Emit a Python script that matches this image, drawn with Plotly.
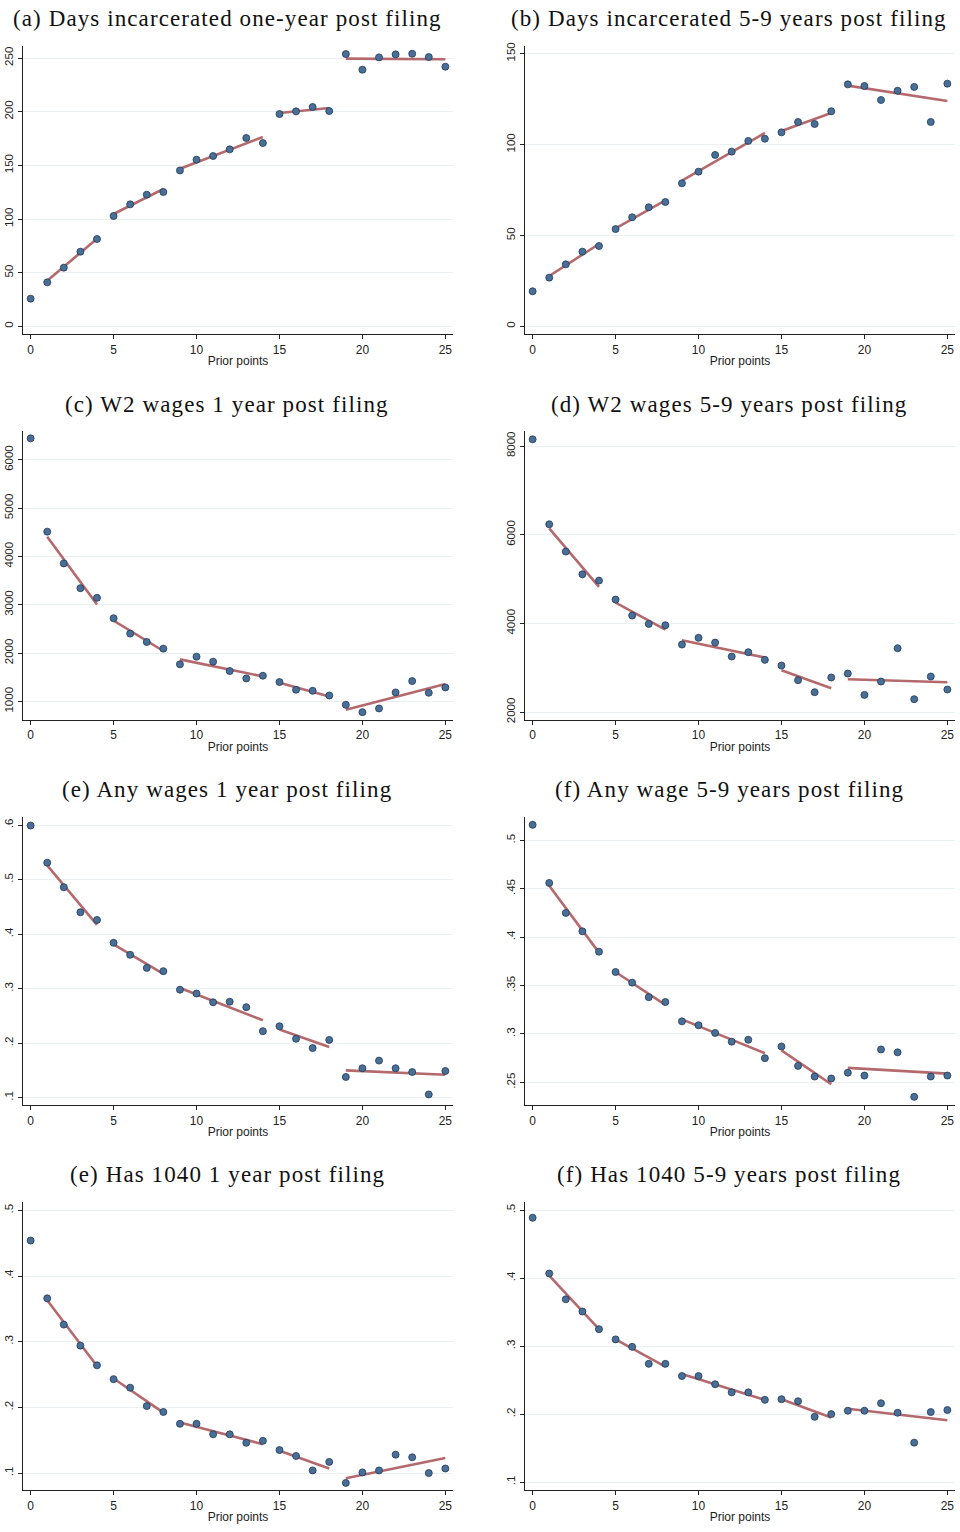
import plotly.graph_objects as go

# ---------------- data ----------------
prior_points = [0, 1, 2, 3, 4, 5, 6, 7, 8, 9, 10, 11, 12, 13, 14, 15, 16, 17, 18, 19, 20, 21, 22, 23, 24, 25]
seg_start = [1, 5, 9, 15, 19]
seg_end = [4, 8, 14, 18, 25]

titles = [
    "(a) Days incarcerated one-year post filing",
    "(b) Days incarcerated 5-9 years post filing",
    "(c) W2 wages 1 year post filing",
    "(d) W2 wages 5-9 years post filing",
    "(e) Any wages 1 year post filing",
    "(f) Any wage 5-9 years post filing",
    "(e) Has 1040 1 year post filing",
    "(f) Has 1040 5-9 years post filing",
]

days_1yr = [25.8, 41.0, 54.7, 69.6, 81.4, 102.8, 113.7, 122.7, 125.2, 145.3, 155.3, 158.7, 164.9,
            175.5, 170.8, 197.8, 200.3, 204.4, 200.6, 253.7, 239.1, 250.6, 253.4, 254.0, 250.9, 241.9]
days_1yr_fit_start = [42.5, 104.7, 146.9, 198.8, 249.4]
days_1yr_fit_end = [81.7, 128.0, 176.4, 203.4, 248.8]

days_59 = [19.3, 26.8, 34.1, 41.1, 44.2, 53.5, 60.0, 65.5, 68.4, 78.7, 85.1, 94.3, 96.1,
           102.0, 103.2, 106.7, 112.4, 111.3, 118.3, 133.1, 132.2, 124.5, 129.6, 131.7, 112.4, 133.5]
days_59_fit_start = [27.7, 53.9, 80.1, 107.5, 132.4]
days_59_fit_end = [45.3, 69.3, 106.4, 117.4, 124.0]

w2_1yr = [6443, 4513, 3856, 3344, 3144, 2722, 2404, 2231, 2093, 1768, 1927, 1823, 1629,
          1477, 1532, 1401, 1242, 1221, 1124, 931, 779, 855, 1187, 1422, 1180, 1290]
w2_1yr_fit_start = [4409, 2674, 1871, 1387, 827]
w2_1yr_fit_end = [3005, 2044, 1519, 1104, 1360]

w2_59 = [8150, 6235, 5620, 5109, 4966, 4538, 4178, 3990, 3960, 3524, 3675, 3569, 3254,
         3352, 3179, 3051, 2721, 2451, 2781, 2871, 2390, 2691, 3442, 2293, 2804, 2511]
w2_59_fit_start = [6145, 4471, 3622, 2946, 2743]
w2_59_fit_end = [4824, 3862, 3232, 2541, 2676]

anyw_1yr = [0.599, 0.531, 0.486, 0.440, 0.426, 0.384, 0.362, 0.338, 0.332, 0.298, 0.291, 0.275, 0.276,
            0.266, 0.222, 0.231, 0.208, 0.191, 0.206, 0.138, 0.154, 0.168, 0.154, 0.147, 0.106, 0.149]
anyw_1yr_fit_start = [0.526, 0.381, 0.301, 0.225, 0.150]
anyw_1yr_fit_end = [0.417, 0.327, 0.242, 0.193, 0.142]

anyw_59 = [0.516, 0.456, 0.425, 0.406, 0.385, 0.364, 0.353, 0.338, 0.333, 0.313, 0.309, 0.301, 0.292,
           0.294, 0.275, 0.287, 0.267, 0.256, 0.254, 0.260, 0.257, 0.284, 0.281, 0.235, 0.256, 0.257]
anyw_59_fit_start = [0.453, 0.364, 0.315, 0.283, 0.265]
anyw_59_fit_end = [0.384, 0.330, 0.280, 0.248, 0.259]

f1040_1yr = [0.454, 0.366, 0.326, 0.294, 0.264, 0.243, 0.230, 0.202, 0.193, 0.175, 0.175, 0.159, 0.159,
             0.146, 0.149, 0.135, 0.126, 0.104, 0.117, 0.085, 0.101, 0.104, 0.128, 0.124, 0.100, 0.107]
f1040_1yr_fit_start = [0.363, 0.244, 0.177, 0.134, 0.092]
f1040_1yr_fit_end = [0.263, 0.192, 0.144, 0.107, 0.123]

f1040_59 = [0.489, 0.407, 0.369, 0.351, 0.325, 0.310, 0.299, 0.274, 0.274, 0.256, 0.256, 0.244, 0.232,
            0.232, 0.221, 0.222, 0.219, 0.196, 0.200, 0.205, 0.205, 0.216, 0.202, 0.158, 0.203, 0.206]
f1040_59_fit_start = [0.404, 0.310, 0.259, 0.222, 0.208]
f1040_59_fit_end = [0.325, 0.270, 0.221, 0.195, 0.191]

y_ranges = [[-7.1, 261.2], [-4.2, 154.2], [627, 6595], [1835, 8338],
            [0.0866, 0.6147], [0.2266, 0.5241], [0.0742, 0.5127], [0.0883, 0.5122]]
y_tickvals = [[0, 50, 100, 150, 200, 250], [0, 50, 100, 150],
              [1000, 2000, 3000, 4000, 5000, 6000], [2000, 4000, 6000, 8000],
              [0.1, 0.2, 0.3, 0.4, 0.5, 0.6], [0.25, 0.3, 0.35, 0.4, 0.45, 0.5],
              [0.1, 0.2, 0.3, 0.4, 0.5], [0.1, 0.2, 0.3, 0.4, 0.5]]
y_ticktext = [["0", "50", "100", "150", "200", "250"], ["0", "50", "100", "150"],
              ["1000", "2000", "3000", "4000", "5000", "6000"], ["2000", "4000", "6000", "8000"],
              [".1", ".2", ".3", ".4", ".5", ".6"], [".25", ".3", ".35", ".4", ".45", ".5"],
              [".1", ".2", ".3", ".4", ".5"], [".1", ".2", ".3", ".4", ".5"]]
x_ticks = [0, 5, 10, 15, 20, 25]

series = [days_1yr, days_59, w2_1yr, w2_59, anyw_1yr, anyw_59, f1040_1yr, f1040_59]
fit_starts = [days_1yr_fit_start, days_59_fit_start, w2_1yr_fit_start, w2_59_fit_start,
              anyw_1yr_fit_start, anyw_59_fit_start, f1040_1yr_fit_start, f1040_59_fit_start]
fit_ends = [days_1yr_fit_end, days_59_fit_end, w2_1yr_fit_end, w2_59_fit_end,
            anyw_1yr_fit_end, anyw_59_fit_end, f1040_1yr_fit_end, f1040_59_fit_end]

# ---------------- layout geometry (pixels) ----------------
W, H = 960, 1532
col_x = [(23, 453), (525, 955)]
row_y = [(46, 334), (431, 719.5), (817, 1105), (1202, 1490)]
title_cx = [227, 729]
title_cy = [18, 404, 789, 1174]

MARKER_FILL = "#4a6f96"
MARKER_LINE = "#1e3a5a"
FIT_COLOR = "#b4696d"
GRID = "#e8f0f2"
SANS = "Liberation Sans, Arial, sans-serif"
XTICK_FONT = dict(family=SANS, size=12, color="#222222")
YTICK_FONT = dict(family=SANS, size=11.5, color="#222222")

fig = go.Figure()
layout_axes = {}
annotations = []

for i in range(8):
    r, c = divmod(i, 2)
    k = i + 1
    xa = "x" if k == 1 else f"x{k}"
    ya = "y" if k == 1 else f"y{k}"
    xname = "xaxis" if k == 1 else f"xaxis{k}"
    yname = "yaxis" if k == 1 else f"yaxis{k}"

    # fit segments
    fx, fy = [], []
    for s, e, v0, v1 in zip(seg_start, seg_end, fit_starts[i], fit_ends[i]):
        fx += [s, e, None]
        fy += [v0, v1, None]
    fig.add_trace(go.Scatter(x=fx, y=fy, mode="lines", xaxis=xa, yaxis=ya,
                             line=dict(color=FIT_COLOR, width=2.6), showlegend=False,
                             hoverinfo="skip"))
    fig.add_trace(go.Scatter(x=prior_points, y=series[i], mode="markers", xaxis=xa, yaxis=ya,
                             marker=dict(size=7, color=MARKER_FILL,
                                         line=dict(color=MARKER_LINE, width=0.8)),
                             showlegend=False))

    x0, x1 = col_x[c]
    yt, yb = row_y[r]
    layout_axes[xname] = dict(
        domain=[x0 / W, x1 / W], anchor=ya, range=[-0.46, 25.46], automargin=False,
        tickvals=x_ticks, ticks="outside", ticklen=4, tickwidth=1, tickcolor="#222",
        showline=True, linecolor="#222", linewidth=1.2, showgrid=False, zeroline=False,
        tickfont=XTICK_FONT,
        title=dict(text="Prior points", font=dict(family=SANS, size=12, color="#222"), standoff=1),
    )
    layout_axes[yname] = dict(
        domain=[1 - yb / H, 1 - yt / H], anchor=xa, range=y_ranges[i], automargin=False,
        tickvals=y_tickvals[i], ticktext=y_ticktext[i], tickangle=-90,
        ticks="outside", ticklen=4, tickwidth=1, tickcolor="#222",
        showline=True, linecolor="#222", linewidth=1.2,
        showgrid=True, gridcolor=GRID, gridwidth=1, zeroline=False,
        tickfont=YTICK_FONT,
    )
    annotations.append(dict(text=f'<span style="letter-spacing:1.1px">{titles[i]}</span>',
                            x=title_cx[c] / W, y=1 - title_cy[r] / H,
                            xref="paper", yref="paper", xanchor="center", yanchor="middle",
                            showarrow=False,
                            font=dict(family="Liberation Serif, Times New Roman, serif",
                                      size=23, color="#111")))

fig.update_layout(width=W, height=H, margin=dict(l=0, r=0, t=0, b=0),
                  paper_bgcolor="white", plot_bgcolor="white",
                  annotations=annotations, **layout_axes)

fig.write_html("out.html", config={"displayModeBar": False},
               post_script="document.body.style.margin='0';")
